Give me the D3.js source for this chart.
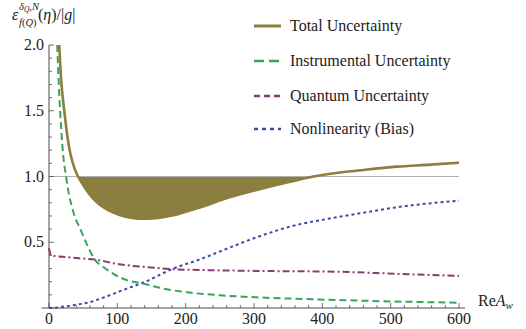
<!DOCTYPE html>
<html><head><meta charset="utf-8">
<script src="https://cdn.jsdelivr.net/npm/d3@7"></script>
<style>
@font-face { font-family: "ChartSerif"; src: local("Liberation Serif"), local("LiberationSerif"), local("Tinos"); font-style: normal; }
@font-face { font-family: "ChartSerif"; src: local("Liberation Serif Italic"), local("LiberationSerif-Italic"); font-style: italic; }
</style>
</head><body style="margin:0;background:#fff">
<svg id="c" width="526" height="329" style="display:block"></svg>
<script>
// ---- data ----
const seriesNames = ["Total Uncertainty","Instrumental Uncertainty","Quantum Uncertainty","Nonlinearity (Bias)"];
const xTicks = [0,100,200,300,400,500,600];
const yTicks = [0.5,1.0,1.5,2.0];
const yTickLabels = ["0.5","1.0","1.5","2.0"];

const totalX = [15,18,21,23,27,31,35,39,42.5,50,57,65,72,84,96,108,120,132,145,160,182,206,221,255,304,353,387,426,460,509,558,600];
const totalY = [2.0,1.72,1.56,1.47,1.3,1.18,1.1,1.04,1.0,0.935,0.88,0.83,0.795,0.752,0.722,0.70,0.687,0.68,0.679,0.685,0.705,0.742,0.765,0.827,0.898,0.96,1.0,1.03,1.05,1.075,1.09,1.105];

const instX = [12,15,18,21,25,29,33,38,45,55,67,80,96,115,140,170,206,250,304,350,421,500,550,600];
const instY = [2.0,1.62,1.35,1.15,1.0,0.87,0.78,0.69,0.61,0.49,0.368,0.31,0.254,0.21,0.183,0.145,0.117,0.097,0.081,0.072,0.061,0.05,0.045,0.04];

const quantX = [0,3,20,40,67,100,133,145,182,221,304,421,509,600];
const quantY = [0.455,0.40,0.39,0.38,0.368,0.335,0.315,0.31,0.295,0.289,0.282,0.276,0.26,0.244];

const biasX = [0,20,40,60,80,106,140,182,221,255,304,353,421,460,509,600];
const biasY = [0,0.008,0.025,0.045,0.08,0.132,0.198,0.30,0.37,0.44,0.538,0.619,0.69,0.725,0.766,0.817];

// ---- drawing ----
const svg = d3.select("#c");
const x = d3.scaleLinear().domain([0,600]).range([49,459]);
const y = d3.scaleLinear().domain([0,2]).range([308,45]);

const colTotal = "#8c7e3d", colInst = "#37a35c", colQuant = "#8e3a72", colBias = "#3d4caa";
const axisCol = "#4a4a4a";
const txtCol = "#222";
const FAM = '"Liberation Serif", ChartSerif, "Times New Roman", serif';
const txt = (parent) => parent.append("text").style("font-family", FAM, "important").attr("font-family", "Liberation Serif").attr("fill", txtCol);

const zip = (xs, ys) => xs.map((v,i)=>[v, ys[i]]);
const line = d3.line().x(d=>x(d[0])).y(d=>y(d[1])).curve(d3.curveMonotoneX);

// filled region where total < 1
const totalPts = zip(totalX,totalY);
const fillPts = totalPts.filter(d=>d[0]>=42.5 && d[0]<=387);
svg.append("path")
  .attr("d", d3.area().x(d=>x(d[0])).y0(y(1)).y1(d=>y(Math.min(d[1],1))).curve(d3.curveMonotoneX)(fillPts))
  .attr("fill", "#8b7f40");

// reference line at 1
svg.append("line").attr("x1",x(0)).attr("x2",x(600)).attr("y1",y(1)).attr("y2",y(1))
  .attr("stroke","#b0b0b0").attr("stroke-width",1.2);

// axes
const gA = svg.append("g");
gA.append("line").attr("x1",41.5).attr("x2",465).attr("y1",y(0)).attr("y2",y(0)).attr("stroke",axisCol).attr("stroke-width",1);
gA.append("line").attr("x1",x(0)).attr("x2",x(0)).attr("y1",y(0)).attr("y2",y(2)).attr("stroke",axisCol).attr("stroke-width",1);

// x ticks (major every 100, minor every 20)
const xMinor = d3.range(0,601,20);
xMinor.forEach(d=>{
  gA.append("line").attr("x1",x(d)).attr("x2",x(d)).attr("y1",y(0))
    .attr("y2", d%100===0 ? y(0)-5 : y(0)-3).attr("stroke",axisCol).attr("stroke-width",0.8);
});
xTicks.forEach(d=>{
  txt(gA).attr("x",x(d)).attr("y",324).attr("text-anchor","middle").attr("font-size",16).text(d);
});

// y ticks (major every 0.5, minor every 0.1)
const yMinor = d3.range(0,21).map(i=>i/10);
yMinor.forEach((d,i)=>{
  gA.append("line").attr("y1",y(d)).attr("y2",y(d)).attr("x1",x(0))
    .attr("x2", i%5===0 ? x(0)+5 : x(0)+3).attr("stroke",axisCol).attr("stroke-width",0.8);
});
yTicks.forEach((d,i)=>{
  txt(gA).attr("x",44).attr("y",y(d)+5).attr("text-anchor","end").attr("font-size",16).text(yTickLabels[i]);
});

// curves
svg.append("path").attr("d",line(zip(quantX,quantY))).attr("fill","none")
  .attr("stroke",colQuant).attr("stroke-width",2).attr("stroke-dasharray","7,3,2,3");
svg.append("path").attr("d",line(zip(biasX,biasY))).attr("fill","none")
  .attr("stroke",colBias).attr("stroke-width",2).attr("stroke-dasharray","3,3");
svg.append("path").attr("d",line(zip(instX,instY))).attr("fill","none")
  .attr("stroke",colInst).attr("stroke-width",2).attr("stroke-dasharray","7,4");
svg.append("path").attr("d",line(totalPts)).attr("fill","none")
  .attr("stroke",colTotal).attr("stroke-width",2.6);

// axis titles
txt(svg).attr("x",12).attr("y",20).attr("font-size",16).attr("font-style","italic").text("ε");
const sup = txt(svg).attr("x",19).attr("y",10).attr("font-size",10.5).attr("font-style","italic");
sup.append("tspan").text("δ");
sup.append("tspan").attr("font-size",7.5).attr("dy",2).text("Q");
sup.append("tspan").attr("dy",-2).attr("font-style","normal").text(",");
sup.append("tspan").text("N");
const sub = txt(svg).attr("x",19).attr("y",26).attr("font-size",10.5).attr("font-style","italic");
sub.append("tspan").text("f");
sub.append("tspan").attr("font-style","normal").text("(");
sub.append("tspan").text("Q");
sub.append("tspan").attr("font-style","normal").text(")");
const rest = txt(svg).attr("x",38).attr("y",20).attr("font-size",16);
rest.append("tspan").text("(");
rest.append("tspan").attr("font-style","italic").text("η");
rest.append("tspan").text(")/|");
rest.append("tspan").attr("font-style","italic").text("g");
rest.append("tspan").text("|");

const xt = txt(svg).attr("x",478).attr("y",306).attr("font-size",16);
xt.append("tspan").text("Re");
xt.append("tspan").attr("font-style","italic").text("A");
xt.append("tspan").attr("font-style","italic").attr("font-size",11).attr("dy",3).text("w");

// legend
const legY = [26,61,96,129];
const legStyle = [
  {c:colTotal, w:3, d:null},
  {c:colInst, w:2.6, d:"10,5"},
  {c:colQuant, w:2.6, d:"6,4,6,4"},
  {c:colBias, w:2.6, d:"4,4"}
];
seriesNames.forEach((n,i)=>{
  const s = legStyle[i];
  const l = svg.append("line").attr("x1",254).attr("x2",281).attr("y1",legY[i]).attr("y2",legY[i])
    .attr("stroke",s.c).attr("stroke-width",s.w);
  if (s.d) l.attr("stroke-dasharray",s.d);
  txt(svg).attr("x",290).attr("y",legY[i]+5).attr("font-size",16).text(n);
});
</script>
</body></html>
